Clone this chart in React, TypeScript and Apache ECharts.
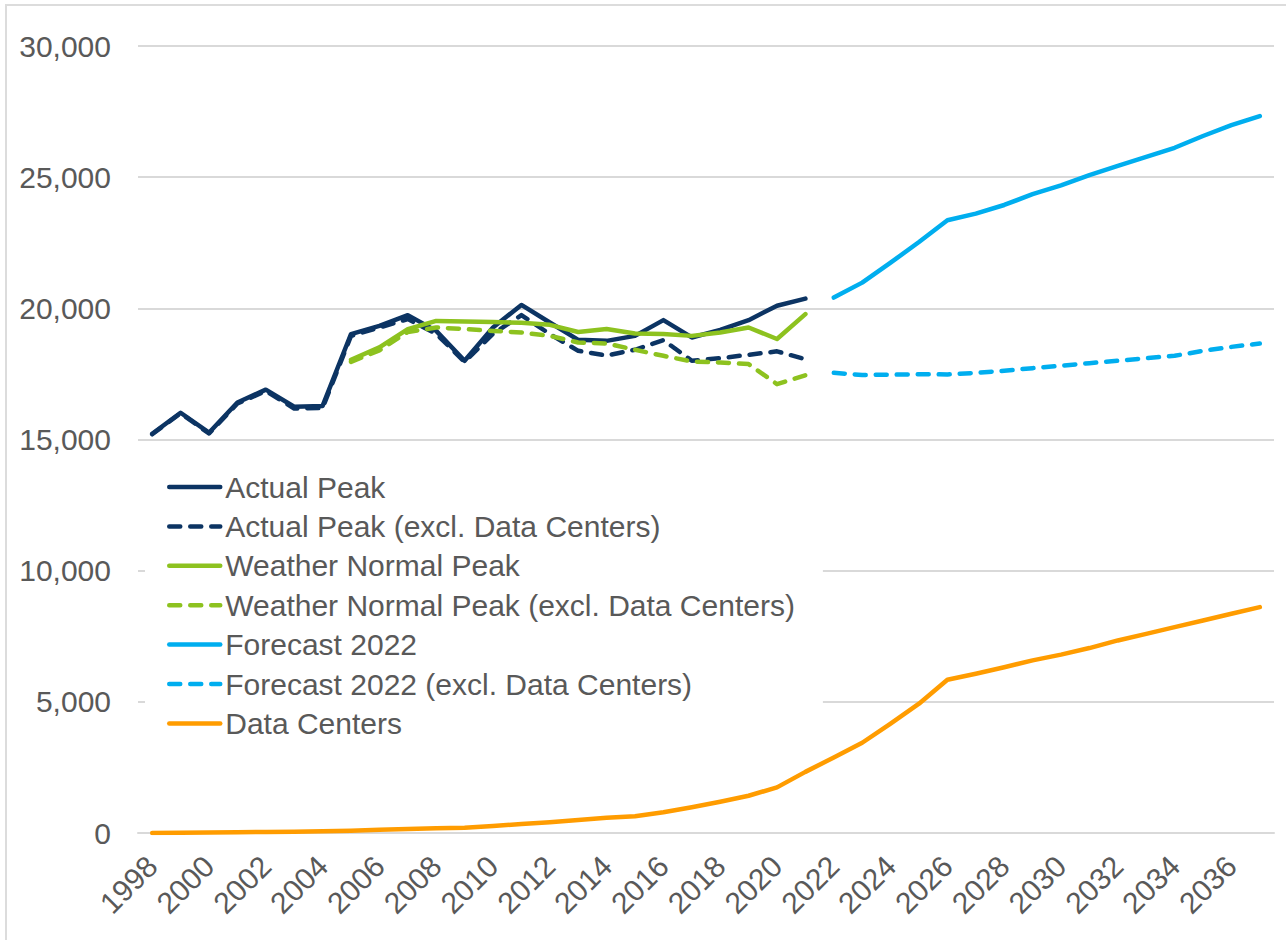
import React, { useEffect, useRef } from "react";
import * as echarts from "echarts";

const years: string[] = [];
for (let y = 1998; y <= 2037; y++) years.push(String(y));

// Actual Peak, 1998–2021
const actualPeak = [15220, 16020, 15260, 16410, 16900, 16250, 16280, 19020, 19330, 19740, 19140, 18000, 19270, 20130, 19460, 18800, 18760, 18950, 19550, 18890, 19180, 19550, 20100, 20370];
// Actual Peak (excl. Data Centers), 1998–2021
const actualPeakExcl = [15200, 16000, 15230, 16370, 16850, 16180, 16200, 18950, 19270, 19590, 19030, 17960, 19030, 19740, 19020, 18380, 18200, 18420, 18790, 18000, 18100, 18230, 18360, 18060];
// Weather Normal Peak, 2005–2021
const weatherNormal = [18040, 18510, 19210, 19520, 19500, 19480, 19450, 19370, 19100, 19210, 19040, 19020, 18950, 19080, 19270, 18830, 19780];
// Weather Normal Peak (excl. Data Centers), 2005–2021
const weatherNormalExcl = [17960, 18400, 19100, 19270, 19210, 19140, 19080, 18950, 18700, 18660, 18420, 18190, 17975, 17935, 17875, 17110, 17450];
// Forecast 2022, 2022–2037
const forecast2022 = [20410, 20980, 21740, 22530, 23360, 23610, 23940, 24350, 24690, 25080, 25430, 25770, 26120, 26570, 26980, 27330];
// Forecast 2022 (excl. Data Centers), 2022–2037
const forecast2022Excl = [17540, 17460, 17470, 17490, 17480, 17540, 17620, 17720, 17810, 17910, 18000, 18100, 18190, 18380, 18530, 18660];
// Data Centers, 1998–2037
const dataCenters = [0, 10, 20, 30, 40, 50, 70, 90, 120, 150, 180, 200, 270, 340, 410, 495, 580, 640, 790, 980, 1190, 1420, 1740, 2330, 2880, 3440, 4170, 4930, 5840, 6070, 6320, 6580, 6800, 7050, 7340, 7590, 7850, 8100, 8360, 8610];

const yTicks = [0, 5000, 10000, 15000, 20000, 25000, 30000];

const NAVY = "#0c3463";
const GREEN = "#8dc21f";
const BLUE = "#00aeef";
const ORANGE = "#ff9c00";
const TEXT = "#595959";
const FONT = "'Liberation Sans', Arial, sans-serif";

function pad(startYear: number, values: number[]): (number | null)[] {
  return years.map((y) => {
    const i = Number(y) - startYear;
    return i >= 0 && i < values.length ? values[i] : null;
  });
}

function lineSeries(name: string, data: (number | null)[], color: string, dashed: boolean) {
  return {
    name,
    type: "line",
    data,
    symbol: "none",
    connectNulls: false,
    lineStyle: {
      color,
      width: 4.5,
      type: dashed ? [11, 10] : "solid",
      cap: "round",
      join: "round",
    },
    itemStyle: { color },
  };
}

export default function App() {
  const ref = useRef<HTMLDivElement>(null);
  useEffect(() => {
    if (!ref.current) return;
    const chart = echarts.init(ref.current, undefined, { renderer: "svg" });
    chart.setOption({
      animation: false,
      backgroundColor: "#ffffff",
      textStyle: { fontFamily: FONT },
      graphic: [
        {
          type: "rect",
          shape: { x: 6, y: 5, width: 1300, height: 1000 },
          style: { fill: "none", stroke: "#dcdcdc", lineWidth: 2 },
          silent: true,
        },
      ],
      grid: { left: 138, right: 12, top: 46, bottom: 107, containLabel: false },
      xAxis: {
        type: "category",
        data: years,
        boundaryGap: true,
        axisLine: { show: true, lineStyle: { color: "#d9d9d9", width: 2 } },
        axisTick: { show: false },
        splitLine: { show: false },
        axisLabel: {
          interval: 1,
          rotate: 45,
          margin: 28,
          fontSize: 30,
          color: TEXT,
          fontFamily: FONT,
        },
      },
      yAxis: {
        type: "value",
        min: yTicks[0],
        max: yTicks[yTicks.length - 1],
        interval: 5000,
        axisLine: { show: false },
        axisTick: { show: false },
        splitLine: { lineStyle: { color: "#d9d9d9", width: 2 } },
        axisLabel: {
          margin: 27,
          fontSize: 30,
          color: TEXT,
          fontFamily: FONT,
          formatter: (v: number) => v.toLocaleString("en-US"),
        },
      },
      legend: {
        orient: "vertical",
        left: 145,
        top: 460,
        backgroundColor: "#ffffff",
        padding: [12, 28, 12, 22],
        itemWidth: 51,
        itemHeight: 30,
        itemGap: 9.4,
        selectedMode: false,
        itemStyle: { color: "rgba(0,0,0,0)", borderWidth: 0 },
        lineStyle: { width: 4.5, cap: "round" },
        textStyle: { fontSize: 30, color: TEXT, fontFamily: FONT, lineHeight: 30 },
        data: [
          "Actual Peak",
          "Actual Peak (excl. Data Centers)",
          "Weather Normal Peak",
          "Weather Normal Peak (excl. Data Centers)",
          "Forecast 2022",
          "Forecast 2022 (excl. Data Centers)",
          "Data Centers",
        ],
      },
      series: [
        lineSeries("Actual Peak", pad(1998, actualPeak), NAVY, false),
        lineSeries("Actual Peak (excl. Data Centers)", pad(1998, actualPeakExcl), NAVY, true),
        lineSeries("Weather Normal Peak", pad(2005, weatherNormal), GREEN, false),
        lineSeries("Weather Normal Peak (excl. Data Centers)", pad(2005, weatherNormalExcl), GREEN, true),
        lineSeries("Forecast 2022", pad(2022, forecast2022), BLUE, false),
        lineSeries("Forecast 2022 (excl. Data Centers)", pad(2022, forecast2022Excl), BLUE, true),
        lineSeries("Data Centers", pad(1998, dataCenters), ORANGE, false),
      ],
    });
    return () => chart.dispose();
  }, []);
  return (
    <div
      ref={ref}
      style={{ position: "fixed", left: 0, top: 0, width: 1286, height: 940 }}
    />
  );
}
